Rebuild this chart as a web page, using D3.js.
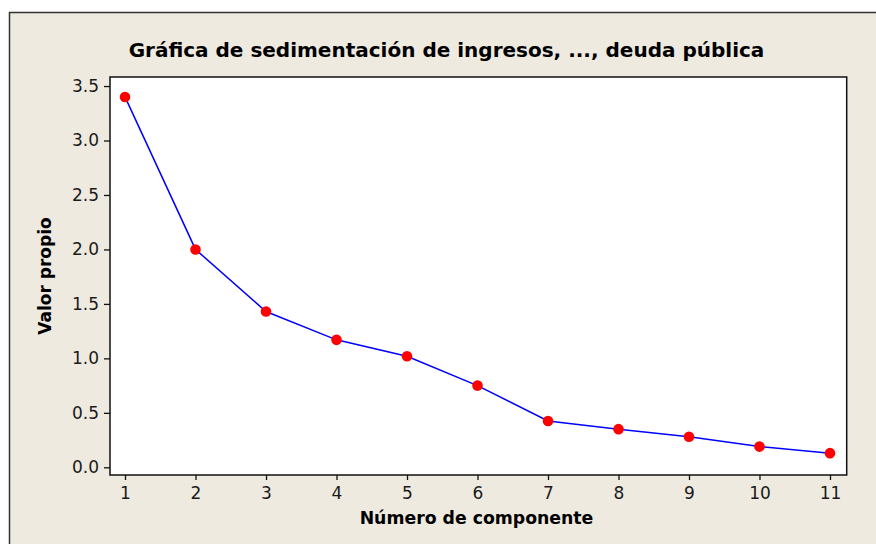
<!DOCTYPE html>
<html><head><meta charset="utf-8">
<script src="https://cdn.jsdelivr.net/npm/d3@7"></script>
<style>
html,body{margin:0;padding:0;background:#fff;}
svg{display:block;}
</style></head>
<body>
<script>
const components = [1,2,3,4,5,6,7,8,9,10,11];
const eigenvalues = [3.40,2.00,1.43,1.17,1.02,0.75,0.425,0.35,0.28,0.19,0.13];
const yTicks = [0.0,0.5,1.0,1.5,2.0,2.5,3.0,3.5];
const xTicks = [1,2,3,4,5,6,7,8,9,10,11];
const title = "Gráfica de sedimentación de ingresos, ..., deuda pública";
const xLabel = "Número de componente";
const yLabel = "Valor propio";

const W = 876, H = 544;
const font = "'DejaVu Sans', Verdana, sans-serif";
const svg = d3.select("body").append("svg").attr("width", W).attr("height", H);

// outer frame
svg.append("rect").attr("x", 9.5).attr("y", 12.5).attr("width", 880).attr("height", 540)
  .attr("fill", "#EEEAE0").attr("stroke", "#333").attr("stroke-width", 1.5);

const L = 110, R = 846.7, T = 77, B = 475;
const x = d3.scaleLinear().domain([0.787, 11.237]).range([L, R]);
const y = d3.scaleLinear().domain([-0.0707, 3.583]).range([B, T]);

svg.append("rect").attr("x", L).attr("y", T).attr("width", R - L).attr("height", B - T)
  .attr("fill", "#fff").attr("stroke", "#111").attr("stroke-width", 1.5);

const gx = svg.append("g").attr("transform", `translate(0,${B})`)
  .call(d3.axisBottom(x).tickValues(xTicks).tickFormat(d3.format("d")).tickSize(5).tickSizeOuter(0));
const gy = svg.append("g").attr("transform", `translate(${L},0)`)
  .call(d3.axisLeft(y).tickValues(yTicks).tickFormat(d3.format(".1f")).tickSize(6).tickSizeOuter(0));
[gx, gy].forEach(g => {
  g.select(".domain").remove();
  g.selectAll(".tick line").attr("stroke", "#111").attr("stroke-width", 1.3);
  g.selectAll(".tick text").attr("fill", "#1a1a1a").style("font-family", font).style("font-size", "17px");
});
gx.selectAll(".tick text").attr("dy", "0.8em").attr("y", 10);
gy.selectAll(".tick text").attr("x", -11);

const line = d3.line().x((d, i) => x(components[i])).y(d => y(d));
svg.append("path").datum(eigenvalues).attr("d", line)
  .attr("fill", "none").attr("stroke", "#0000FF").attr("stroke-width", 1.5);

svg.selectAll("circle.pt").data(eigenvalues).enter().append("circle").attr("class", "pt")
  .attr("cx", (d, i) => x(components[i])).attr("cy", d => y(d)).attr("r", 5.3)
  .attr("fill", "#FF0000");

svg.append("text").attr("x", 446.5).attr("y", 57).attr("text-anchor", "middle")
  .style("font-family", font).style("font-weight", "bold").style("font-size", "20px")
  .attr("fill", "#000").text(title);

svg.append("text").attr("x", 476.5).attr("y", 524).attr("text-anchor", "middle")
  .style("font-family", font).style("font-weight", "bold").style("font-size", "17.3px")
  .attr("fill", "#000").text(xLabel);

svg.append("text").attr("transform", `translate(51,276) rotate(-90)`).attr("text-anchor", "middle")
  .style("font-family", font).style("font-weight", "bold").style("font-size", "17px")
  .attr("fill", "#000").text(yLabel);
</script>
</body></html>
